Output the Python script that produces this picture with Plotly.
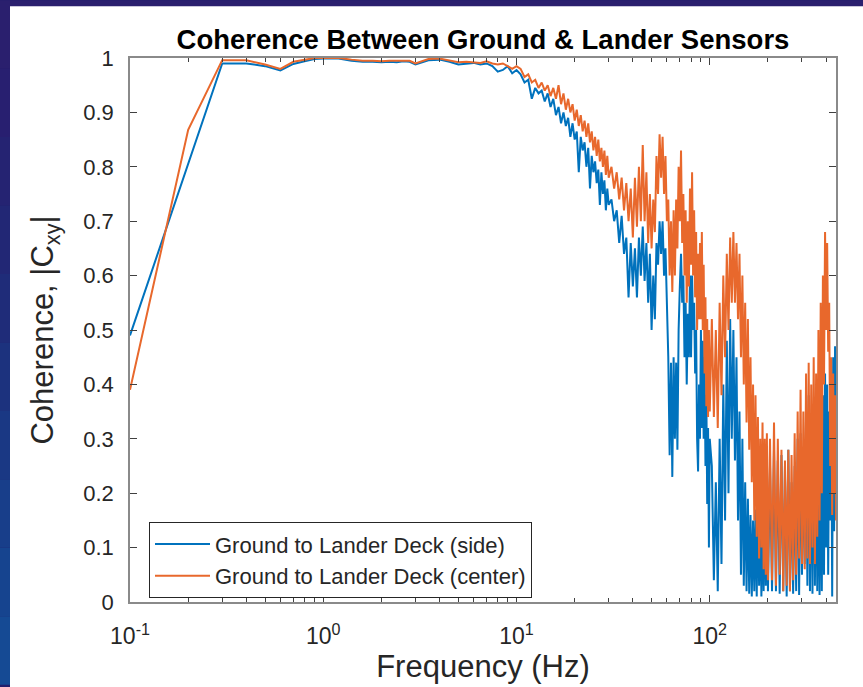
import numpy as np
import plotly.graph_objects as go

# ---------------- data ----------------
# frequency bins per segment (Hz)
freq_s1 = np.linspace(0.1, 1.0, 10)
freq_s2 = np.linspace(1.2, 3.0, 10)
freq_s3 = np.linspace(3.5, 10.0, 14)
freq_s4 = np.linspace(10.5, 30.0, 40)
freq_s5 = np.linspace(31, 100, 70)
freq_s6 = np.linspace(102.5, 200, 40)
freq_s7 = np.linspace(205, 450, 50)

side_s1 = [0.49, 0.805, 0.990, 0.990, 0.985, 0.977, 0.989, 0.994, 0.998, 0.999]
center_s1 = [0.39, 0.868, 0.996, 0.996, 0.988, 0.980, 0.993, 0.997, 1.0, 1.0]

side_s2 = [0.999, 0.995, 0.993, 0.993, 0.992, 0.993, 0.992, 0.994, 0.993, 0.988]
center_s2 = [1.0, 0.997, 0.995, 0.995, 0.994, 0.995, 0.995, 0.996, 0.995, 0.990]

side_s3 = [0.996, 0.997, 0.993, 0.988, 0.990, 0.991, 0.988, 0.990, 0.985, 0.975,
           0.978, 0.985, 0.972, 0.978]
center_s3 = [0.998, 0.999, 0.995, 0.992, 0.993, 0.992, 0.991, 0.994, 0.990, 0.988,
             0.990, 0.985, 0.980, 0.985]

side_s4 = [0.97, 0.955, 0.96, 0.925, 0.945, 0.935, 0.94, 0.92, 0.935, 0.91,
           0.925, 0.895, 0.91, 0.88, 0.90, 0.875, 0.89, 0.855, 0.88, 0.85,
           0.865, 0.79, 0.855, 0.83, 0.845, 0.80, 0.835, 0.76, 0.82, 0.79,
           0.81, 0.77, 0.795, 0.73, 0.79, 0.75, 0.775, 0.72, 0.76, 0.73]
center_s4 = [0.98, 0.965, 0.97, 0.955, 0.96, 0.945, 0.955, 0.94, 0.95, 0.93,
             0.945, 0.925, 0.95, 0.915, 0.935, 0.905, 0.925, 0.90, 0.915, 0.885,
             0.905, 0.875, 0.895, 0.865, 0.885, 0.855, 0.88, 0.845, 0.865, 0.83,
             0.855, 0.82, 0.85, 0.81, 0.835, 0.80, 0.83, 0.785, 0.82, 0.78]

side_s5 = [0.74, 0.70, 0.72, 0.66, 0.71, 0.64, 0.67, 0.56, 0.66, 0.58,
           0.65, 0.56, 0.67, 0.60, 0.69, 0.59, 0.66, 0.55, 0.64, 0.50,
           0.60, 0.52, 0.66, 0.62, 0.70, 0.64, 0.70, 0.60, 0.65, 0.55,
           0.45, 0.27, 0.44, 0.23, 0.45, 0.30, 0.44, 0.28, 0.50, 0.58,
           0.64, 0.55, 0.60, 0.45, 0.55, 0.40, 0.53, 0.45, 0.60, 0.45,
           0.60, 0.50, 0.55, 0.42, 0.50, 0.30, 0.24, 0.40, 0.30, 0.50,
           0.32, 0.48, 0.30, 0.45, 0.25, 0.38, 0.18, 0.32, 0.10, 0.30]
center_s5 = [0.80, 0.76, 0.79, 0.74, 0.78, 0.72, 0.77, 0.70, 0.76, 0.67,
             0.78, 0.69, 0.80, 0.70, 0.84, 0.70, 0.79, 0.66, 0.75, 0.65,
             0.74, 0.68, 0.82, 0.75, 0.86, 0.78, 0.855, 0.75, 0.82, 0.70,
             0.74, 0.60, 0.70, 0.57, 0.72, 0.60, 0.74, 0.65, 0.80, 0.70,
             0.83, 0.66, 0.75, 0.60, 0.72, 0.55, 0.70, 0.58, 0.76, 0.62,
             0.79, 0.60, 0.72, 0.56, 0.68, 0.50, 0.64, 0.52, 0.66, 0.52,
             0.68, 0.50, 0.62, 0.42, 0.56, 0.36, 0.52, 0.34, 0.50, 0.35]

side_s6 = [0.25, 0.04, 0.22, 0.02, 0.30, 0.07, 0.40, 0.15, 0.48, 0.20,
           0.52, 0.30, 0.50, 0.26, 0.45, 0.15, 0.35, 0.05, 0.30, 0.03,
           0.22, 0.02, 0.19, 0.015, 0.16, 0.01, 0.15, 0.02, 0.17, 0.01,
           0.19, 0.03, 0.18, 0.01, 0.20, 0.02, 0.25, 0.03, 0.27, 0.02]
center_s6 = [0.52, 0.34, 0.50, 0.32, 0.55, 0.38, 0.60, 0.45, 0.64, 0.50,
             0.67, 0.55, 0.68, 0.55, 0.66, 0.52, 0.64, 0.45, 0.60, 0.40,
             0.55, 0.33, 0.52, 0.28, 0.45, 0.22, 0.40, 0.15, 0.38, 0.12,
             0.34, 0.08, 0.30, 0.10, 0.33, 0.06, 0.30, 0.05, 0.31, 0.04]

side_s7 = [0.25, 0.02, 0.28, 0.02, 0.26, 0.015, 0.27, 0.02, 0.25, 0.01,
           0.28, 0.02, 0.22, 0.015, 0.25, 0.02, 0.30, 0.013, 0.31, 0.05,
           0.28, 0.07, 0.35, 0.03, 0.38, 0.02, 0.30, 0.015, 0.35, 0.03,
           0.30, 0.02, 0.28, 0.013, 0.35, 0.02, 0.38, 0.05, 0.42, 0.10,
           0.40, 0.05, 0.35, 0.15, 0.40, 0.01, 0.45, 0.13, 0.47, 0.20]
center_s7 = [0.30, 0.04, 0.33, 0.03, 0.30, 0.05, 0.28, 0.02, 0.26, 0.03,
             0.28, 0.02, 0.27, 0.04, 0.31, 0.05, 0.35, 0.08, 0.39, 0.07,
             0.35, 0.06, 0.42, 0.08, 0.44, 0.07, 0.40, 0.10, 0.45, 0.07,
             0.42, 0.12, 0.50, 0.15, 0.55, 0.20, 0.60, 0.40, 0.68, 0.50,
             0.66, 0.46, 0.55, 0.25, 0.45, 0.16, 0.42, 0.20, 0.38, 0.15]

freq = np.concatenate([freq_s1, freq_s2, freq_s3, freq_s4, freq_s5, freq_s6, freq_s7])
side = np.concatenate([side_s1, side_s2, side_s3, side_s4, side_s5, side_s6, side_s7])
center = np.concatenate([center_s1, center_s2, center_s3, center_s4, center_s5, center_s6, center_s7])

series_names = ["Ground to Lander Deck (side)", "Ground to Lander Deck (center)"]
series_colors = ["#0072BD", "#E8682C"]

ytick_vals = [0, 0.1, 0.2, 0.3, 0.4, 0.5, 0.6, 0.7, 0.8, 0.9, 1]
ytick_text = ["0", "0.1", "0.2", "0.3", "0.4", "0.5", "0.6", "0.7", "0.8", "0.9", "1"]
xtick_vals = [0.1, 1, 10, 100]
xtick_text = ["10<sup>-1</sup>", "10<sup>0</sup>", "10<sup>1</sup>", "10<sup>2</sup>"]
xminor_vals = [0.2, 0.3, 0.4, 0.5, 0.6, 0.7, 0.8, 0.9,
               2, 3, 4, 5, 6, 7, 8, 9,
               20, 30, 40, 50, 60, 70, 80, 90,
               200, 300, 400]

# ---------------- figure ----------------
W, H = 863, 687
L, R, T, B = 130, 27, 58, 83
pw, ph = W - L - R, H - T - B

def px_x(x):
    return (x - L) / pw

def px_y(y):
    return (H - B - y) / ph

fig = go.Figure()
for yv, name, col in zip([side, center], series_names, series_colors):
    fig.add_trace(go.Scatter(x=freq, y=yv, mode="lines", name=name,
                             line=dict(color=col, width=2)))

# dark navy slide background, white figure panel
bands = ["#2a1f6e", "#281f70", "#252372", "#222775", "#1f2c79", "#1c327e",
         "#1a3884", "#183e8a", "#16448f", "#154a94"]
shapes = []
nb = len(bands)
for i, c in enumerate(bands):
    y0 = px_y(H * (i + 1) / nb)
    y1 = px_y(H * i / nb)
    shapes.append(dict(type="rect", xref="paper", yref="paper", x0=px_x(0), x1=px_x(W),
                       y0=y0, y1=y1, fillcolor=c, line=dict(width=0), layer="below"))
shapes.append(dict(type="rect", xref="paper", yref="paper", x0=px_x(10), x1=px_x(W + 5),
                   y0=px_y(H + 5), y1=px_y(6), fillcolor="white", line=dict(width=0),
                   layer="below"))

fig.update_layout(
    width=W, height=H,
    margin=dict(l=L, r=R, t=T, b=B, pad=0),
    paper_bgcolor="#231f6c",
    plot_bgcolor="white",
    shapes=shapes,
    font=dict(family="Liberation Sans, Arial, sans-serif", color="#262626"),
    title=dict(text="<b>Coherence Between Ground & Lander Sensors</b>",
               font=dict(size=27.5, color="black"),
               x=px_x(483), xref="paper", xanchor="center",
               y=1 - 39 / H, yanchor="middle"),
    showlegend=True,
    legend=dict(x=px_x(149), y=px_y(524), xanchor="left", yanchor="top",
                bgcolor="white", bordercolor="#262626", borderwidth=1,
                font=dict(size=22, color="#262626"), tracegroupgap=0,
                itemwidth=55),
    xaxis=dict(type="log", range=[-1, np.log10(450)],
               tickmode="array", tickvals=xtick_vals, ticktext=xtick_text,
               ticks="inside", ticklen=7, tickwidth=1, tickcolor="#404040",
               minor=dict(tickmode="array", tickvals=xminor_vals, ticks="inside",
                          ticklen=4, tickwidth=1, tickcolor="#404040", showgrid=False),
               showline=True, linecolor="#8a8a8a", linewidth=1.5, mirror="ticks",
               showgrid=False, zeroline=False,
               tickfont=dict(size=23, color="#262626"), ticklabelstandoff=13,
               title=dict(text="Frequency (Hz)", font=dict(size=31, color="#262626"),
                          standoff=4)),
    yaxis=dict(range=[0, 1], tickmode="array", tickvals=ytick_vals, ticktext=ytick_text,
               ticks="inside", ticklen=7, tickwidth=1, tickcolor="#404040",
               showline=True, linecolor="#8a8a8a", linewidth=1.5, mirror="ticks",
               showgrid=False, zeroline=False,
               tickfont=dict(size=22, color="#262626"), ticklabelstandoff=10,
               title=dict(text="Coherence, |C<sub>xy</sub>|",
                          font=dict(size=31, color="#262626"), standoff=20)),
)

fig.write_html("out.html")
